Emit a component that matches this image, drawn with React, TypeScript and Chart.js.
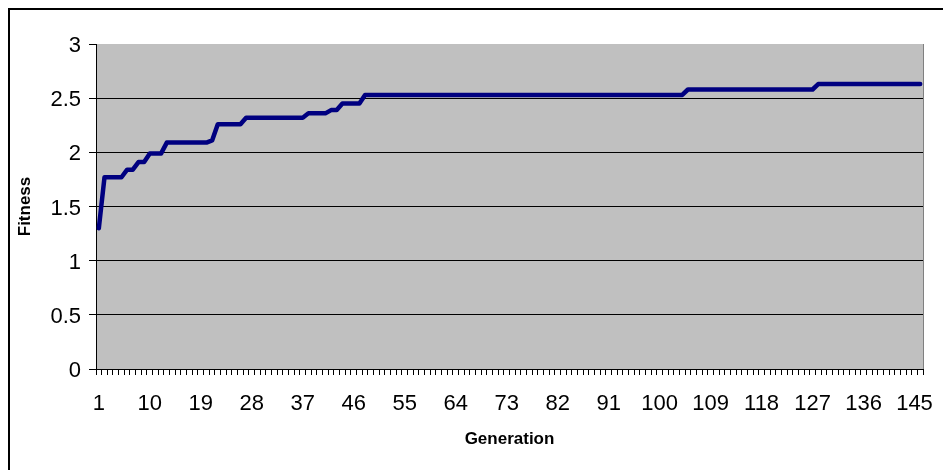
import React, { useEffect, useRef } from 'react';
import { Chart, registerables } from 'chart.js';

Chart.register(...registerables);

const GENERATIONS: number[] = [
  1, 2, 3, 4, 5, 6, 7, 8, 9, 10, 11, 12, 13, 14, 15, 16, 17, 18, 19, 20,
  21, 22, 23, 24, 25, 26, 27, 28, 29, 30, 31, 32, 33, 34, 35, 36, 37, 38, 39, 40,
  41, 42, 43, 44, 45, 46, 47, 48, 49, 50, 51, 52, 53, 54, 55, 56, 57, 58, 59, 60,
  61, 62, 63, 64, 65, 66, 67, 68, 69, 70, 71, 72, 73, 74, 75, 76, 77, 78, 79, 80,
  81, 82, 83, 84, 85, 86, 87, 88, 89, 90, 91, 92, 93, 94, 95, 96, 97, 98, 99, 100,
  101, 102, 103, 104, 105, 106, 107, 108, 109, 110, 111, 112, 113, 114, 115, 116, 117, 118, 119, 120,
  121, 122, 123, 124, 125, 126, 127, 128, 129, 130, 131, 132, 133, 134, 135, 136, 137, 138, 139, 140,
  141, 142, 143, 144, 145, 146,
];

const FITNESS: number[] = [
  // 1-20
  1.30, 1.77, 1.77, 1.77, 1.77, 1.84, 1.84, 1.91, 1.91, 1.99, 1.99, 1.99, 2.09, 2.09, 2.09, 2.09, 2.09, 2.09, 2.09, 2.09,
  // 21-40
  2.11, 2.26, 2.26, 2.26, 2.26, 2.26, 2.32, 2.32, 2.32, 2.32, 2.32, 2.32, 2.32, 2.32, 2.32, 2.32, 2.32, 2.36, 2.36, 2.36,
  // 41-60
  2.36, 2.39, 2.39, 2.45, 2.45, 2.45, 2.45, 2.53, 2.53, 2.53, 2.53, 2.53, 2.53, 2.53, 2.53, 2.53, 2.53, 2.53, 2.53, 2.53,
  // 61-80
  2.53, 2.53, 2.53, 2.53, 2.53, 2.53, 2.53, 2.53, 2.53, 2.53, 2.53, 2.53, 2.53, 2.53, 2.53, 2.53, 2.53, 2.53, 2.53, 2.53,
  // 81-100
  2.53, 2.53, 2.53, 2.53, 2.53, 2.53, 2.53, 2.53, 2.53, 2.53, 2.53, 2.53, 2.53, 2.53, 2.53, 2.53, 2.53, 2.53, 2.53, 2.53,
  // 101-120
  2.53, 2.53, 2.53, 2.53, 2.58, 2.58, 2.58, 2.58, 2.58, 2.58, 2.58, 2.58, 2.58, 2.58, 2.58, 2.58, 2.58, 2.58, 2.58, 2.58,
  // 121-140
  2.58, 2.58, 2.58, 2.58, 2.58, 2.58, 2.58, 2.63, 2.63, 2.63, 2.63, 2.63, 2.63, 2.63, 2.63, 2.63, 2.63, 2.63, 2.63, 2.63,
  // 141-146
  2.63, 2.63, 2.63, 2.63, 2.63, 2.63,
];

const SHOWN_X_TICKS: number[] = [1, 10, 19, 28, 37, 46, 55, 64, 73, 82, 91, 100, 109, 118, 127, 136, 145];
const Y_MIN = 0;
const Y_MAX = 3;
const Y_STEP = 0.5;

const X_TITLE = 'Generation';
const Y_TITLE = 'Fitness';

const FONT = '"Liberation Sans", Arial, sans-serif';

const plotArea = {
  id: 'plotArea',
  beforeDraw(chart: any) {
    const { ctx, chartArea } = chart;
    const { left, top, right, bottom } = chartArea;
    ctx.save();
    ctx.fillStyle = '#C0C0C0';
    ctx.fillRect(left, top, right - left, bottom - top);
    ctx.restore();
  },
  beforeDatasetsDraw(chart: any) {
    const { ctx, chartArea } = chart;
    const { top, right, bottom } = chartArea;
    ctx.save();
    ctx.strokeStyle = '#808080';
    ctx.lineWidth = 1;
    ctx.beginPath();
    ctx.moveTo(right + 0.5, top);
    ctx.lineTo(right + 0.5, bottom);
    ctx.stroke();
    ctx.restore();
  },
};

export default function App() {
  const canvasRef = useRef<HTMLCanvasElement | null>(null);

  useEffect(() => {
    document.body.style.overflow = 'hidden';
    const canvas = canvasRef.current;
    if (!canvas) return;
    const chart = new Chart(canvas, {
      type: 'line',
      data: {
        labels: GENERATIONS.map(String),
        datasets: [
          {
            label: Y_TITLE,
            data: FITNESS,
            borderColor: '#000080',
            backgroundColor: '#000080',
            borderWidth: 4.5,
            pointRadius: 0,
            pointHoverRadius: 0,
            tension: 0,
            borderCapStyle: 'round',
            borderJoinStyle: 'round',
            fill: false,
          },
        ],
      },
      options: {
        responsive: false,
        animation: false,
        devicePixelRatio: 1,
        layout: { padding: { top: 34, right: 20, left: 0, bottom: 0 } },
        plugins: {
          legend: { display: false },
          tooltip: { enabled: false },
        },
        scales: {
          x: {
            type: 'category',
            offset: true,
            afterFit(scale: any) {
              scale.height = 93;
            },
            grid: {
              offset: true,
              drawOnChartArea: false,
              drawTicks: true,
              tickLength: 6,
              tickColor: '#000',
              color: '#000',
            },
            border: { display: true, color: '#000', width: 1 },
            ticks: {
              autoSkip: false,
              maxRotation: 0,
              minRotation: 0,
              padding: 16,
              color: '#000',
              font: { family: FONT, size: 22 },
              callback: (_v: any, i: number) =>
                SHOWN_X_TICKS.includes(GENERATIONS[i]) ? String(GENERATIONS[i]) : '',
            },
            title: {
              display: true,
              text: X_TITLE,
              color: '#000',
              font: { family: FONT, size: 17, weight: 'bold' },
              padding: { top: 0, bottom: 12 },
            },
          },
          y: {
            min: Y_MIN,
            max: Y_MAX,
            afterFit(scale: any) {
              scale.width = 86;
            },
            grid: {
              drawOnChartArea: true,
              drawTicks: true,
              tickLength: 7,
              tickColor: '#000',
              color: (ctx: any) => (ctx.tick && ctx.tick.value === Y_MAX ? '#C0C0C0' : '#000'),
            },
            border: { display: true, color: '#000', width: 1 },
            ticks: {
              stepSize: Y_STEP,
              padding: 8,
              labelOffset: 2,
              color: '#000',
              font: { family: FONT, size: 22 },
              callback: (v: any) => String(Number(v)),
            },
            title: {
              display: true,
              text: Y_TITLE,
              color: '#000',
              font: { family: FONT, size: 17, weight: 'bold' },
              padding: { top: 5, bottom: 0 },
            },
          },
        },
      },
      plugins: [plotArea],
    });
    return () => chart.destroy();
  }, []);

  return (
    <div
      style={{
        position: 'fixed',
        left: 8,
        top: 8,
        borderLeft: '2px solid #000',
        borderTop: '2px solid #000',
        width: 933,
        height: 460,
      }}
    >
      <canvas ref={canvasRef} width={933} height={452} style={{ display: 'block' }} />
    </div>
  );
}
